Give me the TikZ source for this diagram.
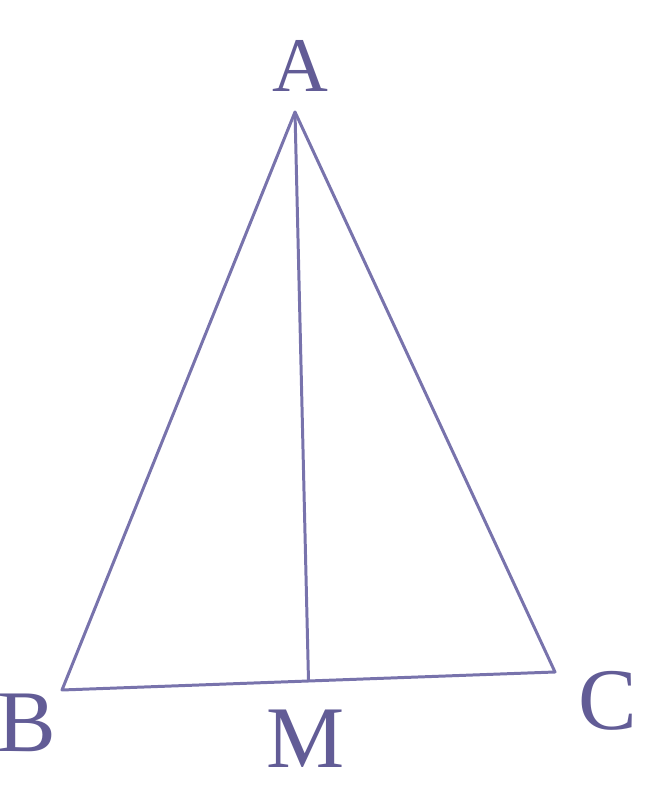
\documentclass[tikz,border=0pt]{standalone}
\usepackage{fontspec}
\setmainfont{Liberation Serif}
\usepackage{tikz}
\usetikzlibrary{
    calc
}
\definecolor{InkBlue}{RGB}{98,92,150}
\definecolor{LineBlue}{RGB}{120,115,172}
\tikzset{
  side/.style  = {LineBlue, line width=1.7pt, line join=round},
  vlabel/.style = {InkBlue, inner sep=0pt, font=\fontsize{50}{52}\selectfont}
}

\begin{document}
\begin{tikzpicture}
\useasboundingbox (0,0) rectangle (13.06,15.72);
% vertices
\coordinate (A) at (5.90,13.48);
\coordinate (B) at (1.24,1.92);
\coordinate (C) at (11.10,2.28);
\coordinate (M) at ($(B)!0.5!(C)$);
\draw[side] (B) -- (A) -- (C) -- cycle;
\draw[side] (A) -- (M);
% labels
\node[vlabel, font=\fontsize{44}{46}\selectfont] (lA) at (6.00,14.40) {A};
\node[vlabel] (lB) at (0.54,1.26) {B};
\node[vlabel] (lM) at (6.12,0.94) {M};
\node[vlabel] (lC) at (12.16,1.70) {C};
\end{tikzpicture}
\end{document}
